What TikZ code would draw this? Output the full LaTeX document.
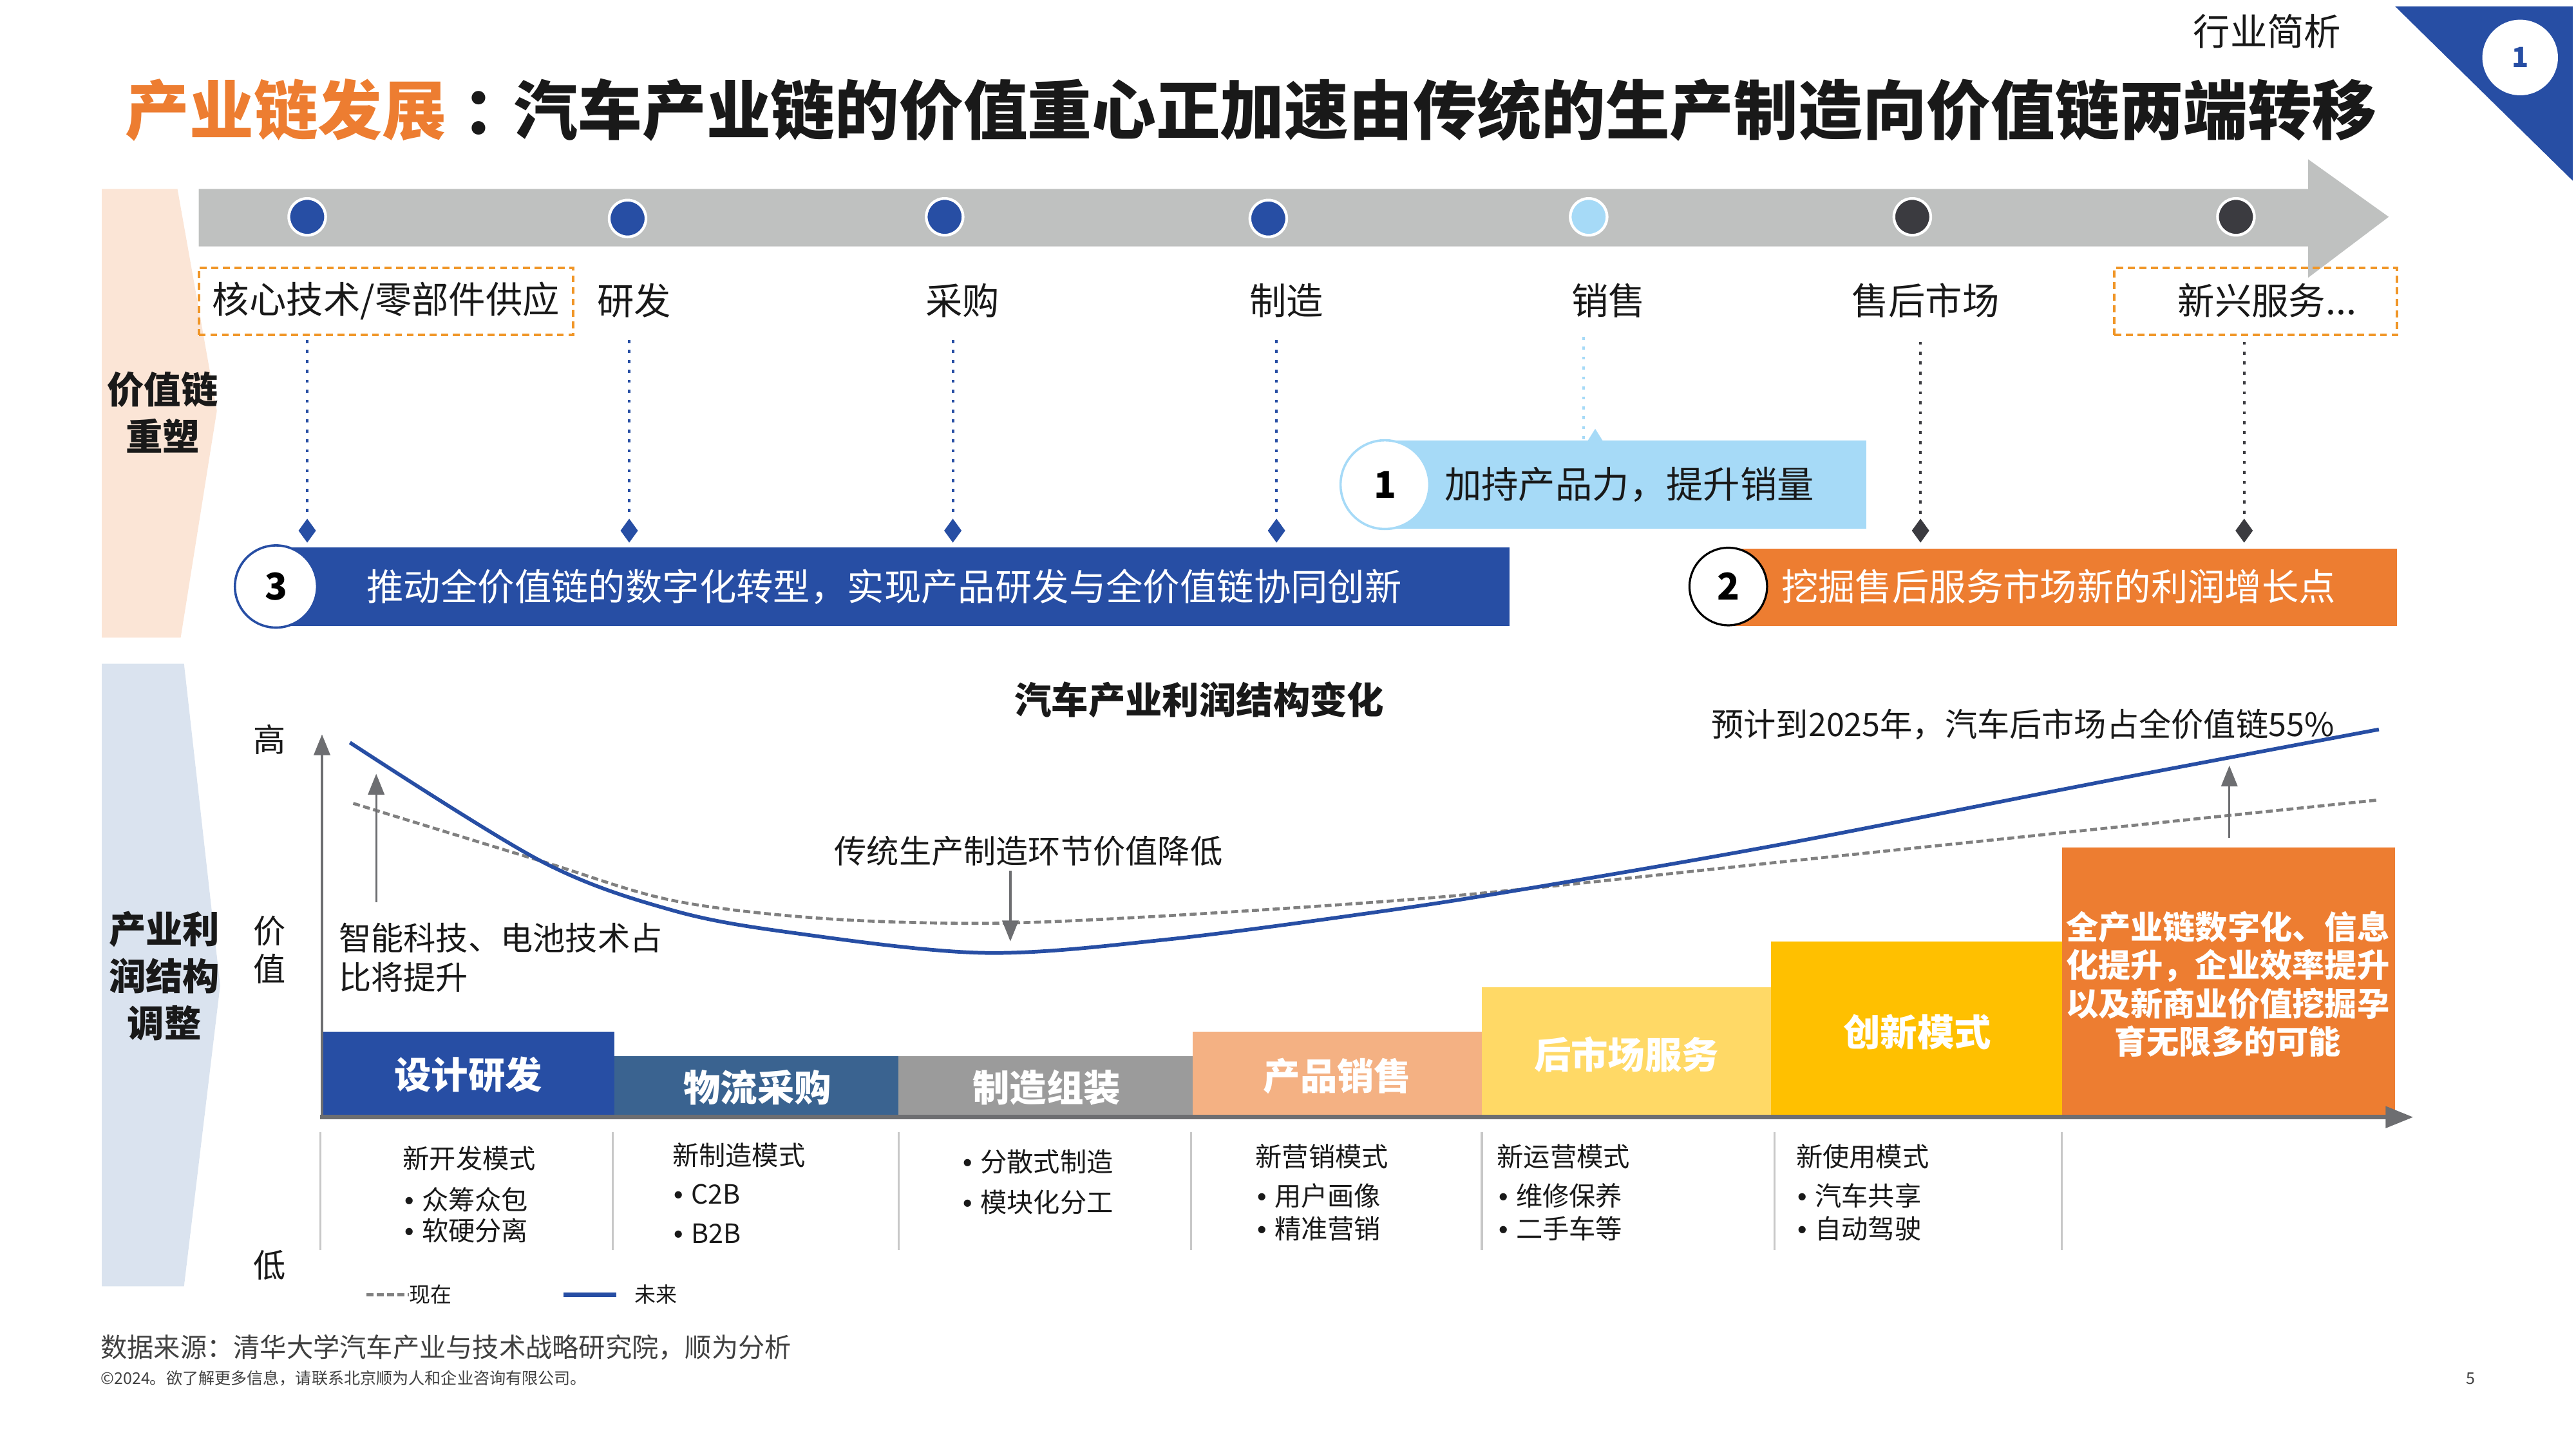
\documentclass[tikz,border=0pt]{standalone}
\usepackage{fontspec}
\setmainfont{Noto Sans CJK SC}
\newfontfamily\lat{Liberation Sans}
\usetikzlibrary{shapes.geometric,arrows.meta,fit}
\definecolor{cblue}{RGB}{39,78,164}
\definecolor{corange}{RGB}{237,125,49}
\definecolor{clight}{RGB}{166,218,247}
\definecolor{cgrayarrow}{RGB}{191,193,192}
\definecolor{cpink}{RGB}{251,229,214}
\definecolor{cstrip}{RGB}{218,227,239}
\definecolor{csteel}{RGB}{58,99,144}
\definecolor{cgraybar}{RGB}{155,155,155}
\definecolor{clorange}{RGB}{244,177,131}
\definecolor{cyellow}{RGB}{255,217,102}
\definecolor{cgold}{RGB}{255,192,0}
\definecolor{cdark}{RGB}{59,59,64}
\definecolor{caxis}{RGB}{109,110,113}
\definecolor{csep}{RGB}{200,200,200}
\definecolor{ctext}{RGB}{25,25,25}
\definecolor{cdash}{RGB}{240,150,40}
\definecolor{cfoot}{RGB}{64,64,64}
\newcommand{\fsz}[2]{\fontsize{#1}{#2}\selectfont}
\newcommand{\bul}{{\lat •}\hspace{0.3em}}
\begin{document}
\begin{tikzpicture}[x=0.025cm,y=-0.025cm,
  txt/.style={inner sep=0pt, text=ctext},
  lab/.style={txt, font=\fsz{16}{19}},
  dotc/.style={circle, draw=white, line width=1.2pt, minimum size=0.56cm, inner sep=0pt},
  dia/.style={diamond, minimum width=0.27cm, minimum height=0.37cm, inner sep=0pt},
  vdot/.style={line width=1.1pt, dash pattern=on 1.3pt off 3pt},
  numc/.style={circle, fill=white, inner sep=0pt, font=\bfseries\fsz{16}{19}, text=black},
  bartxt/.style={txt, text=white, font=\fsz{16}{19}, anchor=west},
  sbar/.style={inner sep=0pt},
  sbtxt/.style={inner sep=0pt, font=\bfseries\fsz{16}{19}, text=white},
  ann/.style={txt, font=\fsz{14}{17}},
  col/.style={txt, font=\fsz{11.5}{14}, anchor=west},
  sep/.style={draw=csep, line width=0.9pt},
  garrow/.style={draw=caxis, line width=0.9pt, -{Triangle[width=7pt,length=9pt]}},
  dbox/.style={draw=cdash, line width=1.1pt, dash pattern=on 3pt off 2pt, inner sep=0pt},
]
\useasboundingbox (0,0) rectangle (1568,882);
\fill[white] (0,0) rectangle (1568,882);

% ---------- header ----------
\node[txt, anchor=west, font=\bfseries\fsz{27.8}{32}] (title) at (76,67)
  {\textcolor{corange}{产业链发展}\hspace{0.25em}：\hspace{-0.2em}汽车产业链的价值重心正加速由传统的生产制造向价值链两端转移};
\node[txt, font=\fsz{16}{19}] (tag) at (1380,19) {行业简析};
\fill[cblue] (1458,4) -- (1566,4) -- (1566,110) -- cycle;
\node[circle, fill=white, minimum size=1.15cm, inner sep=0pt, text=cblue, font=\bfseries\fsz{12}{14}] (pg) at (1534,35) {1};

% ---------- side strips ----------
\fill[cpink] (62,115) -- (108,115) -- (132,250) -- (110,388) -- (62,388) -- cycle;
\fill[cstrip] (62,404) -- (112,404) -- (134,600) -- (112,783) -- (62,783) -- cycle;
\node[txt, align=center, font=\bfseries\fsz{16}{20.6}] (s1) at (99,251) {价值链\\重塑};
\node[txt, align=center, font=\bfseries\fsz{16}{20.3}] (s2) at (100,594) {产业利\\润结构\\调整};

% ---------- value chain arrow ----------
\fill[cgrayarrow] (121,115) -- (1405,115) -- (1405,97) -- (1454,132) -- (1405,169) -- (1405,150) -- (121,150) -- cycle;
\node[dotc, fill=cblue] (c1) at (187,132) {};
\node[dotc, fill=cblue] (c2) at (382,133) {};
\node[dotc, fill=cblue] (c3) at (575,132) {};
\node[dotc, fill=cblue] (c4) at (772,133) {};
\node[dotc, fill=clight] (c5) at (967,132) {};
\node[dotc, fill=cdark] (c6) at (1164,132) {};
\node[dotc, fill=cdark] (c7) at (1361,132) {};

\node[lab] (l1) at (235,183) {核心技术/零部件供应};
\node[dbox, fit={(121,163)(349,204)}] (b1) {};
\node[lab] (l2) at (386,183) {研发};
\node[lab] (l3) at (586,183) {采购};
\node[lab] (l4) at (783,183) {制造};
\node[lab] (l5) at (979,183) {销售};
\node[lab] (l6) at (1172,183) {售后市场};
\node[lab] (l7) at (1380,183) {新兴服务...};
\node[dbox, fit={(1287,163)(1459,204)}] (b7) {};

\node[dia, fill=cblue] (d1) at (187,323) {};
\node[dia, fill=cblue] (d2) at (383,323) {};
\node[dia, fill=cblue] (d3) at (580,323) {};
\node[dia, fill=cblue] (d4) at (777,323) {};
\node[dia, fill=cdark] (d6) at (1169,323) {};
\node[dia, fill=cdark] (d7) at (1366,323) {};
\coordinate (t1) at (187,207);
\coordinate (t2) at (383,207);
\coordinate (t3) at (580,207);
\coordinate (t4) at (777,207);
\coordinate (t5) at (964,205);
\coordinate (t6) at (1169,208);
\coordinate (t7) at (1366,208);
\draw[vdot, cblue] (t1) -- (d1.north);
\draw[vdot, cblue] (t2) -- (d2.north);
\draw[vdot, cblue] (t3) -- (d3.north);
\draw[vdot, cblue] (t4) -- (d4.north);
\draw[vdot, cdark] (t6) -- (d6.north);
\draw[vdot, cdark] (t7) -- (d7.north);

% box 1
\node[fit={(843,268)(1136,322)}, inner sep=0pt, fill=clight] (box1) {};
\fill[clight] (966,269) -- (971,261) -- (976,269) -- cycle;
\draw[vdot, clight] (t5) -- (t5 |- box1.north);
\node[numc, draw=clight, line width=1pt, minimum size=1.35cm] (n1) at (843,295) {1};
\node[txt, font=\fsz{16}{19}, anchor=west] (x1) at (879,295) {加持产品力，提升销量};

% bar 3
\node[fit={(168,333)(919,381)}, inner sep=0pt, fill=cblue] (bar3) {};
\node[numc, draw=cblue, line width=1pt, minimum size=1.25cm] (n3) at (168,357) {3};
\node[bartxt] (x3) at (223,357) {推动全价值链的数字化转型，实现产品研发与全价值链协同创新};

% bar 2
\node[fit={(1052,334)(1459,381)}, inner sep=0pt, fill=corange] (bar2) {};
\node[numc, draw=black, line width=0.9pt, minimum size=1.18cm] (n2) at (1052,357) {2};
\node[bartxt] (x2) at (1084,357) {挖掘售后服务市场新的利润增长点};

% ---------- profit chart ----------
\node[txt, font=\bfseries\fsz{16}{19}] (ctitle) at (730,426) {汽车产业利润结构变化};
\node[ann] (hi) at (164,450) {高};
\node[ann, align=center, font=\fsz{14}{16.4}] (val) at (164,578) {价\\值};
\node[ann] (lo) at (164,770) {低};

% bars
\node[sbar, fill=cblue, fit={(196,628)(374,679)}] (p1) {};
\node[sbar, fill=csteel, fit={(374,643)(547,679)}] (p2) {};
\node[sbar, fill=cgraybar, fit={(547,643)(726,679)}] (p3) {};
\node[sbar, fill=clorange, fit={(726,628)(902,679)}] (p4) {};
\node[sbar, fill=cyellow, fit={(902,601)(1078,679)}] (p5) {};
\node[sbar, fill=cgold, fit={(1078,573)(1255,679)}] (p6) {};
\node[sbar, fill=corange, fit={(1255,516)(1458,679)}] (p7) {};
\node[sbtxt] (p1t) at (285,654) {设计研发};
\node[sbtxt] (p2t) at (461,662) {物流采购};
\node[sbtxt] (p3t) at (637,662) {制造组装};
\node[sbtxt] (p4t) at (814,655) {产品销售};
\node[sbtxt] (p5t) at (990,642) {后市场服务};
\node[sbtxt] (p6t) at (1167,628) {创新模式};
\node[inner sep=0pt, text=white, align=center, font=\bfseries\fsz{14}{16.6}] (p7t) at (1356,599)
  {全产业链数字化、信息\\化提升，企业效率提升\\以及新商业价值挖掘孕\\育无限多的可能};

% axes
\coordinate (O) at (196,680);
\coordinate (ytop) at (196,447);
\coordinate (xend) at (1469,680);
\draw[draw=caxis, line width=1pt, -{Triangle[width=7pt,length=9pt]}] (O) -- (ytop);
\draw[draw=caxis, line width=2pt, -{Triangle[width=9pt,length=12pt]}] (195,680) -- (xend);

% curves
\draw[gray, line width=1.3pt, dash pattern=on 3pt off 1.5pt] plot[smooth, tension=0.55] coordinates
  {(215,489) (329,524) (409,548) (500,559) (600,562) (700,558) (839,549) (929,541) (1100,523) (1447,487)};
\draw[cblue, line width=1.6pt] plot[smooth, tension=0.55] coordinates
  {(213,452) (329,524) (409,554) (484,568) (599,580) (709,572) (839,555) (929,541) (1084,514) (1284,475) (1448,444)};

% annotations
\node[ann, anchor=west, align=left, font=\fsz{14}{17}] (smart) at (206,583) {智能科技、电池技术占\\比将提升};
\coordinate (a1s) at (229,549);
\coordinate (a1e) at (229,471);
\draw[garrow] (a1s) -- (a1e);
\node[ann] (trad) at (626,518) {传统生产制造环节价值降低};
\coordinate (a2s) at (615,530);
\coordinate (a2e) at (615,573);
\draw[garrow] (a2s) -- (a2e);
\node[ann, anchor=east] (pred) at (1421,441) {预计到2025年，汽车后市场占全价值链55\%};
\coordinate (a3s) at (1357,510);
\coordinate (a3e) at (1357,466);
\draw[garrow] (a3s) -- (a3e);

% separators
\foreach \xx in {195,373,547,725,902,1080,1255} {\draw[sep] (\xx,689) -- (\xx,761);}

% columns
\node[col] at (245,705) {新开发模式};
\node[col] at (246,730) {\bul 众筹众包};
\node[col] at (246,749) {\bul 软硬分离};
\node[col] at (409,703) {新制造模式};
\node[col] at (410,727) {\bul C2B};
\node[col] at (410,751) {\bul B2B};
\node[col] at (586,707) {\bul 分散式制造};
\node[col] at (586,732) {\bul 模块化分工};
\node[col] at (764,704) {新营销模式};
\node[col] at (765,728) {\bul 用户画像};
\node[col] at (765,748) {\bul 精准营销};
\node[col] at (911,704) {新运营模式};
\node[col] at (912,728) {\bul 维修保养};
\node[col] at (912,748) {\bul 二手车等};
\node[col] at (1093,704) {新使用模式};
\node[col] at (1094,728) {\bul 汽车共享};
\node[col] at (1094,748) {\bul 自动驾驶};

% legend
\coordinate (lg1a) at (223,788);
\coordinate (lg1b) at (249,788);
\draw[gray, line width=1.5pt, dash pattern=on 3pt off 1.5pt] (lg1a) -- (lg1b);
\node[txt, anchor=west, font=\fsz{9.2}{11}] (now) at (249,788) {现在};
\coordinate (lg2a) at (343,788);
\coordinate (lg2b) at (375,788);
\draw[cblue, line width=2pt] (lg2a) -- (lg2b);
\node[txt, anchor=west, font=\fsz{9.2}{11}] (fut) at (386,788) {未来};

% footer
\node[txt, text=cfoot, anchor=west, font=\fsz{11.5}{14}] (src) at (61,820) {数据来源：清华大学汽车产业与技术战略研究院，顺为分析};
\node[txt, text=cfoot, anchor=west, font=\fsz{7}{8.5}] (copy) at (61,839) {©2024。欲了解更多信息，请联系北京顺为人和企业咨询有限公司。};
\node[txt, text=cfoot, font=\fsz{7}{8.5}] (pno) at (1504,839) {5};
\end{tikzpicture}
\end{document}
